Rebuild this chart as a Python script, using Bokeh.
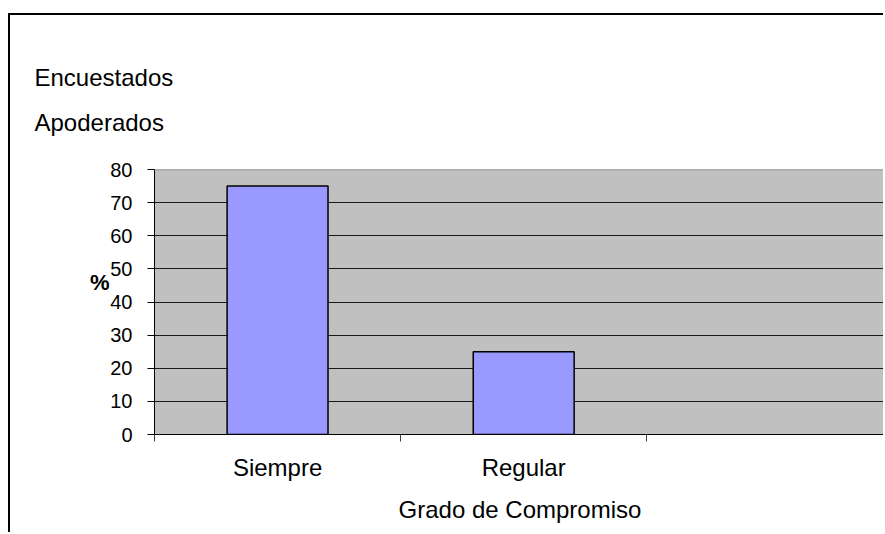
from bokeh.plotting import figure
from bokeh.models import Range1d, FixedTicker, Span, LinearAxis, Title
from bokeh.embed import file_html
from bokeh.resources import INLINE

# ---- data ----
categories = ["Siempre", "Regular"]
values = [75, 25]
n_slots = 3  # category slots on the axis (the third one is empty)
y_ticks = [0, 10, 20, 30, 40, 50, 60, 70, 80]
title_lines = ["Encuestados", "Apoderados"]
x_title = "Grado de Compromiso"
y_title = "%"
y_title_at = 46  # height at which the "%" sits next to the axis

FONT = "Liberation Sans"
x_pos = [i + 0.5 for i in range(len(categories))]

p = figure(width=875, height=519, output_backend="svg", toolbar_location=None,
           x_range=Range1d(0, 2.97), y_range=Range1d(0, 80),
           min_border_left=144, min_border_top=154, min_border_right=0,
           min_border_bottom=100,
           background_fill_color="#C0C0C0", border_fill_color="white",
           outline_line_color=None,
           styles={"border-left": "2px solid black", "border-top": "2px solid black",
                   "margin-top": "13px", "margin-left": "8px"})

p.vbar(x=x_pos, top=values, width=0.41, fill_color="#9999FF",
       line_color="black", line_width=1.5)

# x axis
p.xaxis.ticker = FixedTicker(ticks=x_pos, minor_ticks=list(range(n_slots + 1)))
p.xaxis.major_label_overrides = {x: c for x, c in zip(x_pos, categories)}
p.xaxis.major_tick_out = 0
p.xaxis.major_tick_in = 0
p.xaxis.minor_tick_out = 7
p.xaxis.minor_tick_in = 0
p.xaxis.minor_tick_line_color = "#404040"
p.xaxis.axis_line_color = "black"
p.xaxis.major_label_text_font = FONT
p.xaxis.major_label_text_font_size = "24px"
p.xaxis.major_label_text_color = "black"
p.xaxis.major_label_standoff = 12
p.xaxis.axis_label = x_title
p.xaxis.axis_label_text_font = FONT
p.xaxis.axis_label_text_font_size = "24px"
p.xaxis.axis_label_text_font_style = "normal"
p.xaxis.axis_label_text_color = "black"
p.xaxis.axis_label_standoff = 12

# y axis
p.yaxis.ticker = FixedTicker(ticks=y_ticks, minor_ticks=[])
p.yaxis.major_tick_out = 7
p.yaxis.major_tick_in = 0
p.yaxis.major_tick_line_color = "black"
p.yaxis.axis_line_color = "black"
p.yaxis.major_label_text_font = FONT
p.yaxis.major_label_text_font_size = "20px"
p.yaxis.major_label_text_color = "black"
p.yaxis.major_label_standoff = 15

# "%" axis title, drawn horizontally as an extra axis label
pct_axis = LinearAxis(ticker=FixedTicker(ticks=[y_title_at], minor_ticks=[]),
                      major_label_overrides={y_title_at: y_title},
                      axis_line_color=None, major_tick_line_color=None,
                      major_tick_out=0, major_tick_in=0,
                      minor_tick_line_color=None,
                      major_label_standoff=-2,
                      major_label_text_font=FONT, major_label_text_font_size="22px",
                      major_label_text_font_style="bold", major_label_text_color="black")
p.add_layout(pct_axis, "left")

# grid
p.xgrid.visible = False
p.ygrid.ticker = FixedTicker(ticks=y_ticks[1:-1])
p.ygrid.grid_line_color = "#1a1a1a"
p.ygrid.grid_line_width = 1
p.add_layout(Span(location=y_ticks[-1], dimension="width", line_color="#808080", line_width=1.5))

# two-line heading above the plot
p.add_layout(Title(text="\n".join(title_lines), align="left", offset=-120, standoff=66,
                   text_font=FONT, text_font_size="24px", text_line_height=1.68,
                   text_font_style="normal", text_color="black"), "above")

open("out.html", "w").write(file_html(p, INLINE))
